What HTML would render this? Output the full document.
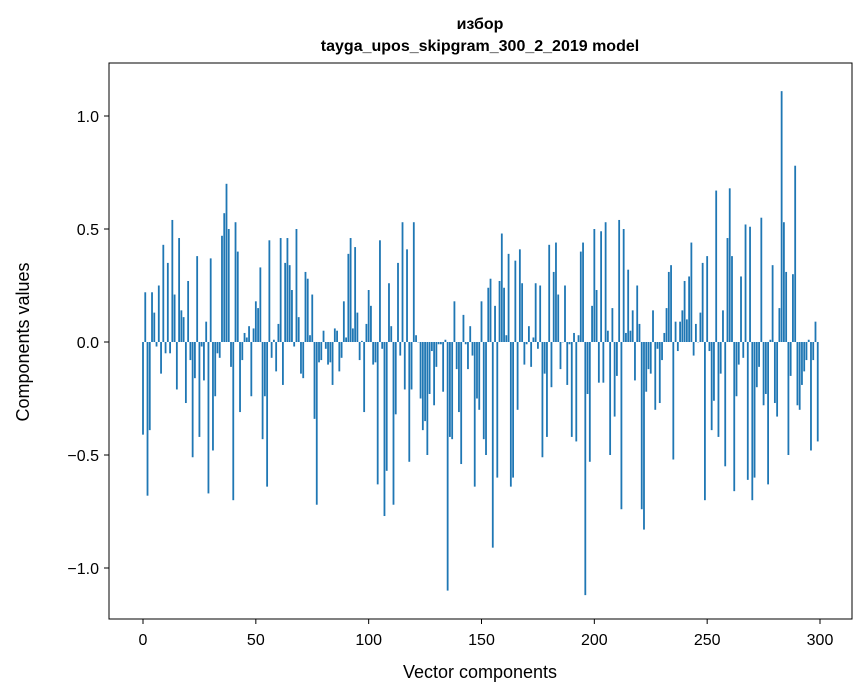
<!DOCTYPE html>
<html><head><meta charset="utf-8"><style>
body{margin:0;background:#fff}
svg{display:block;font-family:"Liberation Sans","DejaVu Sans",sans-serif}
</style></head><body>
<svg id="chart" width="867" height="696">
<text x="480" y="29" text-anchor="middle" font-size="16" font-weight="bold">избор</text>
<text x="480" y="51" text-anchor="middle" font-size="16" font-weight="bold">tayga_upos_skipgram_300_2_2019 model</text>
<g id="bars"></g>
<rect x="109" y="63" width="743" height="556" fill="none" stroke="#000" stroke-width="1"/>
<g id="xticks"></g>
<g id="yticks"></g>
<text x="480" y="678" text-anchor="middle" font-size="18">Vector components</text>
<text transform="translate(29,342) rotate(-90)" text-anchor="middle" font-size="18">Components values</text>
</svg>
<script>
const values = [
-0.41,0.22,-0.68,-0.39,0.22,0.13,-0.02,0.25,-0.14,0.43,
-0.05,0.35,-0.05,0.54,0.21,-0.21,0.46,0.14,0.11,-0.27,
0.27,-0.08,-0.51,-0.16,0.38,-0.42,-0.02,-0.17,0.09,-0.67,
0.37,-0.48,-0.24,-0.05,-0.07,0.47,0.57,0.70,0.50,-0.11,
-0.70,0.53,0.40,-0.31,-0.08,0.04,0.02,0.07,-0.24,0.06,
0.18,0.15,0.33,-0.43,-0.24,-0.64,0.45,-0.07,0.01,-0.13,
0.08,0.46,-0.19,0.35,0.46,0.34,0.23,-0.02,0.50,0.11,
-0.14,-0.16,0.31,0.28,0.03,0.21,-0.34,-0.72,-0.09,-0.08,
0.05,-0.03,-0.10,-0.09,-0.19,0.06,0.05,-0.13,-0.07,0.18,
0.02,0.39,0.46,0.06,0.42,0.13,-0.08,0.005,-0.31,0.08,
0.23,0.16,-0.10,-0.09,-0.63,0.45,-0.03,-0.77,-0.57,0.26,
0.07,-0.72,-0.32,0.35,-0.06,0.53,-0.21,0.41,-0.53,-0.21,
0.53,0.03,0.0,-0.25,-0.39,-0.35,-0.50,-0.23,-0.04,-0.28,
-0.11,-0.01,-0.01,-0.22,0.01,-1.10,-0.42,-0.43,0.18,-0.12,
-0.31,-0.54,0.12,-0.01,-0.12,0.07,-0.06,-0.64,-0.25,-0.30,
0.18,-0.43,-0.50,0.24,0.28,-0.91,0.16,-0.60,0.27,0.48,
0.24,0.03,0.39,-0.64,-0.60,0.36,-0.30,0.41,0.26,-0.10,
-0.01,0.07,-0.11,0.02,0.26,-0.03,0.25,-0.51,-0.14,-0.42,
0.43,-0.20,0.31,0.44,0.21,-0.12,0.0,0.25,-0.19,-0.01,
-0.42,0.04,-0.44,0.03,0.40,0.44,-1.12,-0.23,-0.53,0.16,
0.50,0.23,-0.18,0.49,-0.18,0.53,0.05,-0.50,0.15,-0.33,
-0.15,0.54,-0.74,0.50,0.04,0.32,0.05,0.14,-0.17,0.25,
0.08,-0.74,-0.83,-0.22,-0.12,-0.14,0.14,-0.30,-0.03,-0.27,
-0.08,0.04,0.15,0.31,0.34,-0.52,0.09,-0.04,0.09,0.14,
0.27,0.10,0.29,0.44,-0.06,0.08,0.0,0.13,0.35,-0.70,
0.38,-0.04,-0.39,-0.26,0.67,-0.42,-0.14,0.14,-0.55,0.46,
0.68,0.38,-0.66,-0.24,-0.10,0.29,-0.07,0.52,-0.61,0.51,
-0.70,-0.60,-0.20,-0.11,0.55,-0.28,-0.23,-0.63,0.01,0.34,
-0.27,-0.33,0.15,1.11,0.53,0.31,-0.50,-0.15,0.30,0.78,
-0.28,-0.30,-0.19,-0.13,-0.08,0.01,-0.48,-0.08,0.09,-0.44
];
const xTicks = [0,50,100,150,200,250,300];
const yTicks = [1.0,0.5,0.0,-0.5,-1.0];
const yTickLabels = ["1.0","0.5","0.0","\u22120.5","\u22121.0"];

const NS="http://www.w3.org/2000/svg";
const xScale = v => 143 + v*(677/300);
const yScale = v => 342 - v*226;
const bw = 0.8*(677/300);
const gb = document.getElementById('bars');
values.forEach((v,i)=>{
  const r=document.createElementNS(NS,'rect');
  const y0=yScale(0), y1=yScale(v);
  r.setAttribute('x', xScale(i)-bw/2);
  r.setAttribute('y', Math.min(y0,y1));
  r.setAttribute('width', bw);
  r.setAttribute('height', Math.max(Math.abs(y1-y0),0.3));
  r.setAttribute('fill','#1f77b4');
  
  
  gb.appendChild(r);
});
const gx=document.getElementById('xticks');
xTicks.forEach(t=>{
  const x=xScale(t);
  const l=document.createElementNS(NS,'line');
  l.setAttribute('x1',x);l.setAttribute('x2',x);l.setAttribute('y1',619);l.setAttribute('y2',624);
  l.setAttribute('stroke','#000');
  
  
  gx.appendChild(l);
  const tx=document.createElementNS(NS,'text');
  tx.setAttribute('x',x);tx.setAttribute('y',645);tx.setAttribute('text-anchor','middle');tx.setAttribute('font-size','16');
  tx.textContent=t;
  
  
  gx.appendChild(tx);
});
const gy=document.getElementById('yticks');
yTicks.forEach((t,i)=>{
  const y=yScale(t);
  const l=document.createElementNS(NS,'line');
  l.setAttribute('x1',104);l.setAttribute('x2',109);l.setAttribute('y1',y);l.setAttribute('y2',y);
  l.setAttribute('stroke','#000');
  
  
  gy.appendChild(l);
  const tx=document.createElementNS(NS,'text');
  tx.setAttribute('x',99);tx.setAttribute('y',y+6);tx.setAttribute('text-anchor','end');tx.setAttribute('font-size','16');
  tx.textContent=yTickLabels[i];
  
  
  gy.appendChild(tx);
});
</script>
</body></html>
